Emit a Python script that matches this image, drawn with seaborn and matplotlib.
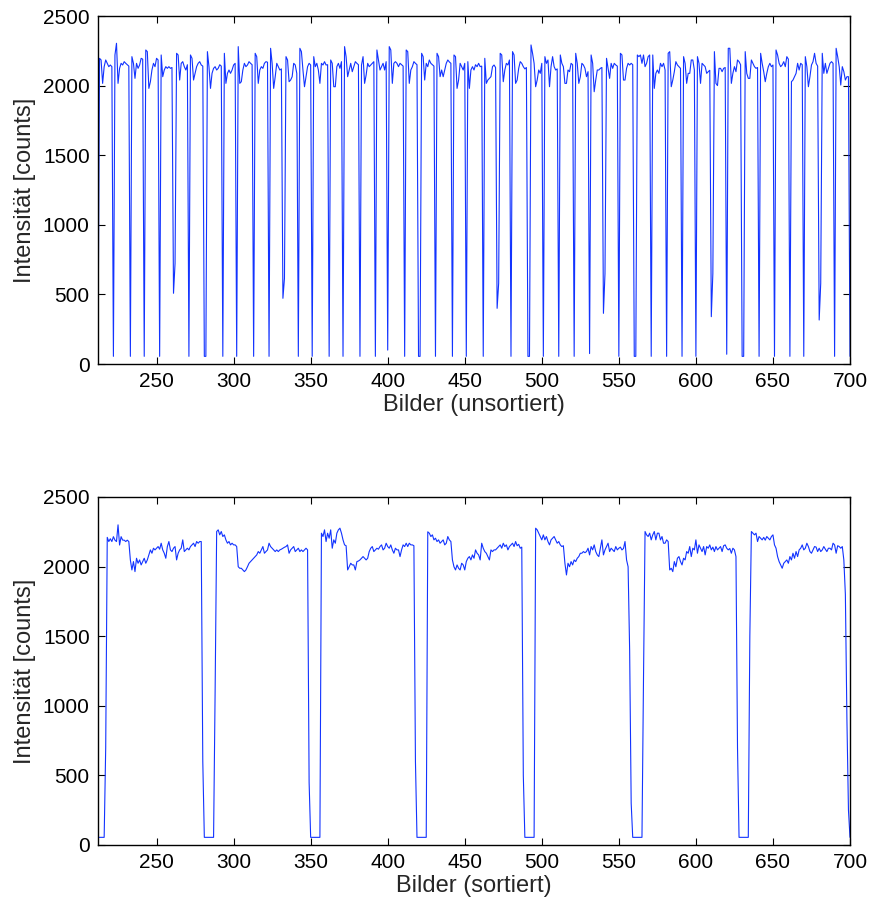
import numpy as np
import pandas as pd
import matplotlib
matplotlib.use("Agg")
import matplotlib.pyplot as plt
import seaborn as sns

# ---------------- data ----------------
frame_start = 212
frame_end = 700

# Top panel: intensity per image, unsorted (frames 212..700)
intensity_unsorted = [
    55,
    2196, 2184, 2016, 2136, 2184, 2160, 2136, 2148, 2136,
    55, 2220, 2304, 2016, 2124, 2160, 2148, 2172, 2160, 2150, 2140,
    55, 2208, 2160, 2052, 2160, 2124, 2148, 2196, 2190,
    55, 2256, 2244, 1980, 2028, 2112, 2160, 2136, 2196, 2184,
    55, 2220, 2064, 2112, 2136, 2124, 2136, 2124, 2130,
    508, 723, 2232, 2220, 2040, 2160, 2172, 2136, 2112, 2150,
    55, 2220, 2196, 2040, 2088, 2136, 2160, 2172, 2148, 2140,
    55, 55, 2244, 2136, 1980, 2088, 2124, 2136, 2112, 2124, 2150, 2140,
    55, 2232, 2016, 2088, 2112, 2088, 2112, 2148, 2160,
    55, 2280, 2016, 2028, 2112, 2160, 2136, 2148, 2172, 2160, 2150,
    55, 2232, 2208, 2016, 2112, 2136, 2124, 2160, 2172, 2168,
    55, 2268, 2160, 1980, 2064, 2160, 2136, 2112, 2120,
    472, 615, 2208, 2184, 2028, 2040, 2064, 2160, 2148, 2088,
    55, 2268, 2244, 2112, 1992, 2064, 2136, 2160, 2148,
    55, 2208, 2136, 2160, 2112, 2016, 2160, 2148, 2172, 2148, 2150,
    55, 2184, 2160, 1992, 1992, 2136, 2160, 2124, 2172,
    55, 2280, 2208, 2064, 2112, 2160, 2100, 2136, 2172, 2160, 2150,
    55, 2148, 2208, 2016, 2076, 2160, 2136, 2148, 2160, 2172,
    55, 2256, 2184, 2112, 2136, 2160, 2112, 2172,
    100, 2280, 2256, 2016, 2160, 2172, 2160, 2136, 2160, 2150, 2140,
    55, 2256, 2244, 2016, 2112, 2136, 2172, 2160, 2150,
    55, 55, 2232, 2208, 2040, 2160, 2136, 2184, 2160, 2150, 2140,
    55, 2232, 2208, 2064, 2112, 2064, 2112, 2160, 2184, 2170, 2160,
    55, 2220, 2208, 1980, 2040, 2160, 2136, 2112, 2160,
    55, 2172, 1980, 2112, 2136, 2112, 2150, 2136, 2160, 2136, 2140,
    55, 2196, 2016, 2040, 2052, 2064, 2136, 2148, 2130,
    400, 580, 2232, 2220, 2028, 2112, 2160, 2148, 2184,
    55, 2244, 2220, 2016, 2040, 2124, 2172, 2160, 2136, 2120, 2130,
    55, 55, 2292, 2232, 2160, 1992, 2040, 2112, 2088, 2160,
    55, 2208, 2160, 2184, 1992, 2136, 2208, 2136, 2112, 2120,
    55, 2220, 2160, 2136, 2016, 2016, 2112, 2100, 2160, 2150,
    55, 2232, 2160, 2016, 2064, 2160, 2148, 2124, 2064, 2100,
    75, 2220, 2160, 1956, 2040, 2112, 2112, 2124, 2130,
    364, 650, 2196, 2124, 2052, 2160, 2124, 2160, 2148, 2140,
    55, 2232, 2220, 2040, 2040, 2124, 2160, 2148, 2160, 2150,
    55, 55, 2220, 2208, 2220, 2160, 2220, 2136, 2160, 2208, 2220,
    55, 2220, 1980, 2088, 2112, 2088, 2160, 2136, 2160, 2112,
    55, 2232, 2244, 1992, 2040, 2100, 2172, 2148, 2136, 2124,
    55, 2208, 2160, 2016, 2088, 2088, 2184, 2184, 2112,
    55, 2208, 2160, 2016, 2160, 2148, 2136, 2088, 2100, 2110,
    340, 650, 2244, 2016, 2000, 2124, 2124, 2100, 2124, 2130,
    70, 2268, 2268, 2016, 2088, 2136, 2100, 2184, 2172, 2150,
    55, 55, 2244, 2088, 2052, 2052, 2184, 2160, 2136, 2124, 2130,
    55, 2232, 2160, 2100, 2028, 2088, 2136, 2160, 2136, 2148,
    55, 2256, 2220, 2160, 2136, 2148, 2172, 2136, 2208, 2190,
    55, 2028, 2040, 2064, 2088, 2160, 2112, 2160, 2150,
    55, 2208, 2136, 1992, 2064, 2148, 2172, 2232, 2160, 2140,
    316, 580, 2232, 2088, 2160, 2088, 2124, 2160, 2172, 2160,
    55, 2268, 2208, 2136, 2004, 2136, 2100, 2040, 2064, 2064,
    55,
]

# Bottom panel: intensity per image, sorted (frames 212..700)
intensity_sorted = [
    55, 55, 55, 55, 55, 700,
    2210, 2180, 2200, 2180, 2215, 2190, 2180, 2300, 2155, 2215, 2190, 2190, 2180, 2190, 2180,
    2048, 1976, 2036, 1964, 2060, 2024, 2048, 2012, 2036, 2060,
    2024, 2048, 2084, 2120, 2096, 2132, 2120, 2132, 2144, 2125,
    2168, 2120, 2096, 2060, 2144, 2180, 2120, 2108, 2132, 2144,
    2048, 2096, 2120, 2132, 2192, 2108, 2120, 2132, 2120, 2144,
    2156, 2168, 2144, 2180, 2168, 2180, 2180,
    600, 55, 55, 55, 55, 55, 55, 55, 1100,
    2252, 2264, 2228, 2252, 2216, 2228, 2192, 2168, 2180, 2156, 2168, 2156, 2156, 2144,
    1999, 1988, 1988, 1976, 1964, 1976, 1999, 2024, 2036, 2048, 2060, 2072, 2084, 2108, 2096,
    2120, 2144, 2096, 2108, 2120, 2168, 2144, 2132, 2120, 2108, 2120, 2108, 2120, 2125, 2132,
    2139, 2144, 2156, 2096, 2120, 2132, 2144, 2108, 2120, 2132, 2108, 2120, 2108, 2120, 2132,
    2120, 450, 55, 55, 55, 55, 55, 55, 55,
    2240, 2216, 2264, 2180, 2240, 2204, 2264, 2132, 2192, 2168, 2240, 2264, 2276, 2240, 2192, 2156, 2150,
    1976, 1999, 2024, 2012, 2012, 1976, 2036, 2040, 2048, 2060, 2072, 2060, 2048, 2060, 2108,
    2132, 2144, 2108, 2120, 2132, 2125, 2144, 2156, 2120, 2132, 2168, 2144, 2132, 2156, 2120,
    2096, 2132, 2120, 2120, 2072, 2120, 2156, 2144, 2168, 2144, 2168, 2156, 2156, 2150,
    600, 55, 55, 55, 55, 55, 55, 55,
    2250, 2240, 2216, 2228, 2192, 2204, 2180, 2192, 2168, 2180, 2192, 2156, 2168, 2216, 2192, 2180,
    2048, 1999, 1976, 2012, 1988, 1976, 2024, 2012, 1976, 2036, 2060,
    2072, 2048, 2084, 2060, 2120, 2096, 2084, 2048, 2168, 2132, 2108, 2096, 2072, 2048, 2120,
    2108, 2120, 2120, 2132, 2144, 2156, 2132, 2168, 2144, 2156, 2120, 2144, 2156, 2168, 2144,
    2180, 2150, 2160, 2132, 2140,
    500, 55, 55, 55, 55, 55, 55, 55,
    2276, 2264, 2240, 2216, 2192, 2228, 2192, 2216, 2180, 2156, 2192, 2204, 2216, 2192, 2168,
    2180, 2156, 2144, 2150,
    2024, 1940, 2024, 1999, 2036, 2012, 2048, 2036, 2060, 2072, 2096, 2096, 2108, 2100, 2108,
    2132, 2084, 2144, 2120, 2156, 2108, 2084, 2072, 2132, 2192, 2084, 2120, 2144, 2168, 2108,
    2132, 2120, 2108, 2144, 2120, 2132, 2140, 2120, 2130, 2180, 2048, 1999,
    1400, 300, 55, 55, 55, 55, 55, 55, 55, 1200,
    2252, 2228, 2216, 2240, 2192, 2228, 2252, 2192, 2240,
    2240, 2192, 2216, 2168, 2168, 2192, 2180,
    1976, 1988, 1964, 2036, 1999, 2060, 2072, 2036, 2012, 2060, 2048, 2108, 2096, 2144, 2072,
    2132, 2120, 2192, 2096, 2156, 2132, 2108, 2144, 2084, 2144, 2132, 2156, 2120, 2140, 2108,
    2144, 2120, 2132, 2144, 2108, 2150, 2156, 2132, 2120, 2130, 2096, 2132, 2120, 2072,
    700, 55, 55, 55, 55, 55, 55, 55, 1500,
    2252, 2240, 2228, 2240, 2180, 2216, 2204, 2192, 2210, 2190, 2216, 2204, 2192, 2216, 2228,
    2156, 2132, 2072, 2036, 2012, 1988, 2024, 2036, 2048, 2024, 2072, 2048, 2096, 2060, 2108,
    2072, 2120, 2132, 2156, 2120, 2132, 2168, 2144, 2108, 2096, 2120, 2144, 2140, 2108, 2132,
    2108, 2120, 2144, 2125, 2108, 2132, 2132, 2120, 2168, 2156, 2096, 2150, 2144, 2132, 2144,
    2048,
    1800, 900, 250, 55,
]

x_ticks = [250, 300, 350, 400, 450, 500, 550, 600, 650, 700]
y_ticks = [0, 500, 1000, 1500, 2000, 2500]
x_labels = ["Bilder (unsortiert)", "Bilder (sortiert)"]
y_label = "Intensität [counts]"

frames = np.arange(frame_start, frame_end + 1)
df_top = pd.DataFrame({"frame": frames[:len(intensity_unsorted)],
                       "value": intensity_unsorted[:len(frames)]})
df_bot = pd.DataFrame({"frame": frames[:len(intensity_sorted)],
                       "value": intensity_sorted[:len(frames)]})

# ---------------- style ----------------
sns.set_theme(style="ticks")
plt.rcParams["font.family"] = ["Liberation Sans", "DejaVu Sans"]
plt.rcParams["axes.linewidth"] = 1.0

line_color = "#1233ff"

fig = plt.figure(figsize=(8.70, 9.06), dpi=100)
ax1 = fig.add_axes([98 / 870, 1 - 364 / 906, 752 / 870, 348 / 906])
ax2 = fig.add_axes([98 / 870, 1 - 845 / 906, 752 / 870, 348 / 906])

for ax, df, xl in [(ax1, df_top, x_labels[0]), (ax2, df_bot, x_labels[1])]:
    sns.lineplot(data=df, x="frame", y="value", ax=ax, color=line_color,
                 linewidth=0.8, estimator=None, errorbar=None)
    ax.set_xlim(frame_start, frame_end)
    ax.set_ylim(0, 2500)
    ax.set_xticks(x_ticks)
    ax.set_yticks(y_ticks)
    ax.set_xticklabels([str(t) for t in x_ticks])
    ax.set_yticklabels([str(t) for t in y_ticks])
    ax.tick_params(direction="in", length=5, width=0.8, top=True, right=True,
                   labelsize=15, pad=6, colors="black")
    for s in ax.spines.values():
        s.set_visible(True)
        s.set_color("black")
        s.set_linewidth(1.0)
    ax.set_xlabel(xl, fontsize=17, labelpad=2)
    ax.set_ylabel(y_label, fontsize=17, labelpad=5)
    ax.set_facecolor("white")

fig.savefig("out.png", dpi=100, facecolor="white")
